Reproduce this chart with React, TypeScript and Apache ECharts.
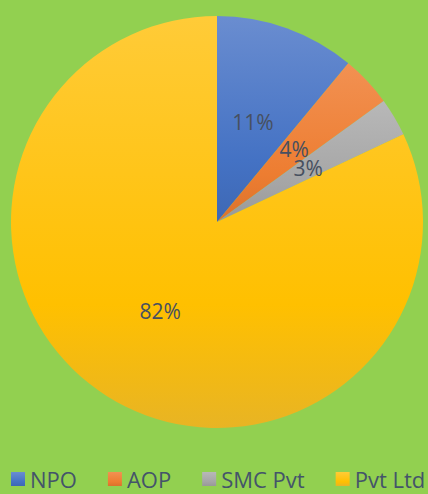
import React, { useEffect, useRef } from "react";
import * as echarts from "echarts";

const categories = ["NPO", "AOP", "SMC Pvt", "Pvt Ltd"];
const values = [11, 4, 3, 82];
const colors = ["#4472C4", "#ED7D31", "#A5A5A5", "#FFC000"];
const topColors = ["#6A8DD0", "#F29152", "#B8B8B8", "#FFCB38"];
const bottomColors = ["#3E68B4", "#DA722C", "#989898", "#E8B424"];

export default function App() {
  const ref = useRef<HTMLDivElement>(null);
  useEffect(() => {
    const chart = echarts.init(ref.current!, null, { renderer: "svg" });
    chart.setOption({
      animation: false,
      backgroundColor: "#92D050",
      legend: {
        left: 11,
        top: 468,
        width: 428,
        padding: 0,
        itemWidth: 14,
        itemHeight: 14,
        itemGap: 31,
        icon: "rect",
        textStyle: {
          color: "#44546A",
          fontSize: 22,
          lineHeight: 18,
          fontFamily: "Open Sans",
        },
        data: categories,
      },
      series: [
        {
          type: "pie",
          center: [217, 222],
          radius: [0, 206],
          startAngle: 90,
          clockwise: true,
          label: {
            show: true,
            position: "inside",
            formatter: "{d}%",
            color: "#475060",
            fontSize: 21,
            fontFamily: "Open Sans",
          },
          labelLine: { show: false },
          labelLayout: { hideOverlap: false },
          itemStyle: { borderWidth: 0 },
          emphasis: { disabled: true },
          data: categories.map((name, i) => ({
            name,
            value: values[i],
            itemStyle: {
              color: new echarts.graphic.LinearGradient(0, 0, 0, 1, [
                { offset: 0, color: topColors[i] },
                { offset: 0.7, color: colors[i] },
                { offset: 1, color: bottomColors[i] },
              ]),
            },
          })),
        },
      ],
    });
    return () => chart.dispose();
  }, []);
  return (
    <div
      ref={ref}
      style={{ position: "fixed", left: 0, top: 0, width: 428, height: 494 }}
    />
  );
}
